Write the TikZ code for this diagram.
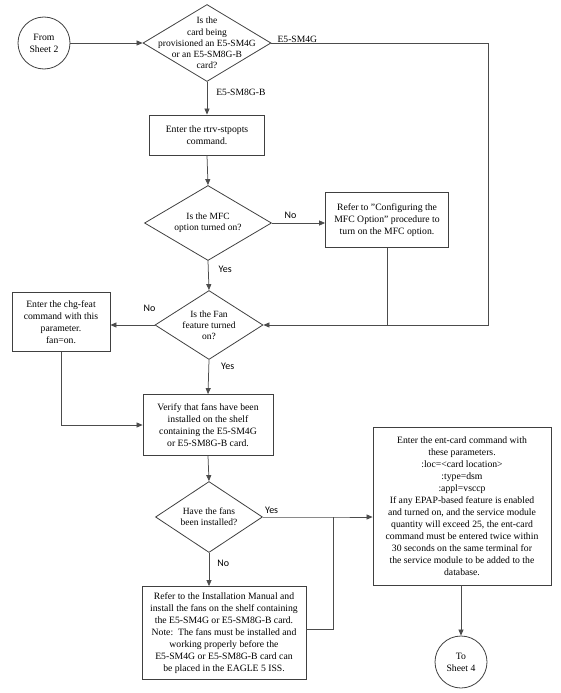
\documentclass[tikz,border=0pt]{standalone}
\usepackage{fontspec}
\setmainfont{Liberation Serif}
\newfontfamily\lblfont{Carlito}
\usetikzlibrary{shapes.geometric,arrows.meta}

\tikzset{
  flow/.style={draw=black!70, line width=0.75pt},
  arr/.style={flow, -{Triangle[length=6pt,width=5pt]}},
  stepbox/.style={draw=black!75, line width=0.8pt, fill=white, align=center, inner sep=2pt,
    font=\fontsize{9.7}{12}\selectfont},
  decision/.style={diamond, draw=black!75, line width=0.8pt, inner sep=0pt},
  qtext/.style={align=center, inner sep=0pt, font=\fontsize{9.5}{11.2}\selectfont},
  sheet/.style={circle, draw=black!75, line width=0.8pt, minimum size=52pt, align=center,
    font=\fontsize{9.7}{12}\selectfont},
  yn/.style={font=\lblfont\fontsize{10}{11}\selectfont, inner sep=1pt},
  card/.style={font=\fontsize{9.6}{10}\selectfont, inner sep=1pt}
}

\begin{document}
\begin{tikzpicture}[x=1pt, y=-1pt]
\useasboundingbox (0,0) rectangle (561,693);

% connectors
\node[sheet] (from) at (44,43) {From\\Sheet 2};
\node[decision, minimum width=128pt, minimum height=77pt,
  label={[qtext]center:{Is the\\card being\\provisioned an E5-SM4G\\or an E5-SM8G-B\\card?}}] (qcard) at (207,43) {};

% rtrv-stpopts
\node[stepbox, minimum width=115pt, minimum height=40pt] (rtrv) at (207,135)
  {Enter the rtrv-stpopts\\command.};

% MFC option
\node[decision, minimum width=127pt, minimum height=75pt,
  label={[qtext]center:{Is the MFC\\option turned on?}}] (qmfc) at (208,223) {};
\node[stepbox, minimum width=123pt, minimum height=55pt] (mfcbox) at (387,220)
  {Refer to "Configuring the\\MFC Option" procedure to\\turn on the MFC option.};

% Fan feature
\node[decision, minimum width=108pt, minimum height=69pt,
  label={[qtext]center:{Is the Fan\\feature turned\\on?}}] (qfan) at (209,325) {};
\node[stepbox, minimum width=98pt, minimum height=59pt] (chgfeat) at (61,322)
  {Enter the chg-feat\\command with this\\parameter.\\fan=on.};

% verify fans
\node[stepbox, minimum width=130pt, minimum height=61pt] (verify) at (208,425)
  {Verify that fans have been\\installed on the shelf\\containing the E5-SM4G\\or E5-SM8G-B card.};
\node[decision, minimum width=107pt, minimum height=71pt,
  label={[qtext]center:{Have the fans\\been installed?}}] (qfans) at (209,517) {};

% install fans
\node[stepbox, minimum width=164pt, minimum height=93pt] (install) at (224,633)
  {Refer to the Installation Manual and\\install the fans on the shelf containing\\the E5-SM4G or E5-SM8G-B card.\\Note:\ \ The fans must be installed and\\working properly before the\\E5-SM4G or E5-SM8G-B card can\\be placed in the EAGLE 5 ISS.};

% ent-card
\node[stepbox, minimum width=178pt, minimum height=158pt] (entcard) at (462,506)
  {Enter the ent-card command with\\these parameters.\\:loc=<card location>\\:type=dsm\\:appl=vsccp\\If any EPAP-based feature is enabled\\and turned on, and the service module\\quantity will exceed 25, the ent-card\\command must be entered twice within\\30 seconds on the same terminal for\\the service module to be added to the\\database.};
\node[sheet] (tosheet) at (461,662) {To\\Sheet 4};

\coordinate (sm4top) at (488,43);
\coordinate (sm4bot) at (488,325);
\coordinate (yesjoin) at (333,517);

% arrows
\draw[arr] (from) -- (qcard.west);
\draw[arr] (qcard.east) -- (sm4top) -- (sm4bot) -- (qfan.east);
\node[card, above right] at ([xshift=5pt,yshift=-1pt]qcard.east) {E5-SM4G};
\draw[arr] (qcard.south) -- (rtrv.north) node[card, pos=0.32, right, xshift=8pt] {E5-SM8G-B};
\draw[arr] (rtrv.south) -- (qmfc.north);
\draw[arr] (qmfc.east) -- (qmfc.east -| mfcbox.west) node[yn, pos=0.35, above, yshift=3pt] {No};
\draw[flow] (mfcbox.south) -- (mfcbox.south |- qfan.east);
\draw[arr] (qmfc.south) -- (qfan.north) node[yn, pos=0.3, right, xshift=9pt] {Yes};
\draw[arr] (qfan.west) -- (qfan.west -| chgfeat.east);
\node[yn, above left] at ([xshift=2pt,yshift=12pt]qfan.west) {No};
\draw[arr] (chgfeat.south) |- (verify.west);
\draw[arr] (qfan.south) -- (verify.north) node[yn, pos=0.2, right, xshift=11pt] {Yes};
\draw[arr] (qfans.east) -- (yesjoin) -- (entcard.west |- yesjoin);
\node[yn, above right] at ([xshift=1pt,yshift=2pt]qfans.east) {Yes};
\draw[arr] (verify.south) -- (qfans.north);
\draw[arr] (qfans.south) -- (qfans.south |- install.north) node[yn, pos=0.3, right, xshift=7pt] {No};
\draw[flow] (install.east |- 0,629) -| (yesjoin);
\draw[arr] (entcard.south -| tosheet.north) -- (tosheet.north);
\end{tikzpicture}
\end{document}
